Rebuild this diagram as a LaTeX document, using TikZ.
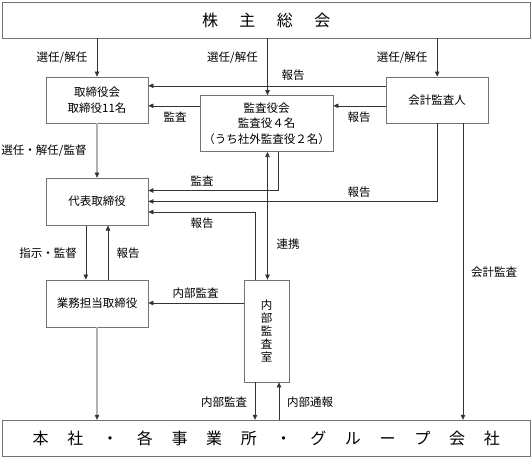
\documentclass[tikz,border=0pt]{standalone}
\usepackage{fontspec}
\setmainfont{Noto Sans CJK JP}
\usetikzlibrary{arrows.meta}
\begin{document}
\begin{tikzpicture}[x=1pt,y=-1pt,
  box/.style={draw=black!55,line width=0.8pt,fill=white,inner sep=0pt,align=center,
    font=\fontsize{11.5}{15.5}\selectfont},
  arr/.style={draw=black!80,line width=0.55pt,-{Triangle[length=5pt,width=4.5pt]}},
  darr/.style={draw=black!80,line width=0.55pt,{Triangle[length=5pt,width=4.5pt]}-{Triangle[length=5pt,width=4.5pt]}},
  garr/.style={draw=black!30,line width=1.3pt,-{Triangle[length=5pt,width=4.5pt,color=black!80,fill=black!80,line width=0.5pt]}},
  lbl/.style={font=\fontsize{11.5}{13}\selectfont,inner sep=0pt}]
\useasboundingbox (0,0) rectangle (532,458);
% boxes
\node[box,minimum width=527.5pt,minimum height=36pt,font=\fontsize{16}{18}\selectfont] (top) at (266.25,20)
  {株\hspace{21.5pt}主\hspace{21.5pt}総\hspace{21.5pt}会};
\node[box,minimum width=102pt,minimum height=46pt] (tori) at (97,100) {取締役会\\取締役11名};
\node[box,minimum width=133pt,minimum height=56pt] (kansa) at (266.5,123.6) {監査役会\\監査役４名\\（うち社外監査役２名）};
\node[box,minimum width=102pt,minimum height=46pt] (kaikei) at (437.2,100) {会計監査人};
\node[box,minimum width=102pt,minimum height=47pt] (daihyo) at (97,201.6) {代表取締役};
\node[box,minimum width=102pt,minimum height=47pt] (gyomu) at (97,303.4) {業務担当取締役};
\node[box,minimum width=45pt,minimum height=102pt,font=\fontsize{11.5}{12.8}\selectfont] (naibu) at (266.5,331) {内\\部\\監\\査\\室};
\node[box,minimum width=527.5pt,minimum height=36pt,font=\fontsize{16}{18}\selectfont] (bottom) at (266.25,438.2)
  {本\hspace{18.7pt}社\hspace{18.7pt}・\hspace{18.7pt}各\hspace{18.7pt}事\hspace{18.7pt}業\hspace{18.7pt}所\hspace{18.7pt}・\hspace{18.7pt}グ\hspace{18.7pt}ル\hspace{18.7pt}ー\hspace{18.7pt}プ\hspace{18.7pt}会\hspace{18.7pt}社};
% helper coordinates
\coordinate (h1) at (0,85.8);
\coordinate (h2) at (0,105.8);
\coordinate (h3) at (0,190.5);
\coordinate (h4) at (0,201.4);
\coordinate (h5) at (0,212);
\coordinate (h6) at (0,303);
\coordinate (v1) at (278.6,0);
\coordinate (v2) at (255,0);
\coordinate (v3) at (85.8,0);
\coordinate (v4) at (108,0);
\coordinate (v5) at (279,0);
\coordinate (v6) at (463,0);
\coordinate (v7) at (267.5,0);
% connectors
\draw[arr] (top.south -| tori.north) -- (tori.north);
\draw[arr] (top.south -| v7) -- (kansa.north -| v7);
\draw[arr] (top.south -| kaikei.north) -- (kaikei.north);
\draw[arr] (kaikei.west |- h1) -- (tori.east |- h1);
\draw[arr] (kansa.west |- h2) -- (tori.east |- h2);
\draw[arr] (kaikei.west |- h2) -- (kansa.east |- h2);
\draw[garr] (tori.south) -- (daihyo.north);
\draw[arr] (kansa.south -| v1) -- (v1 |- h3) -- (daihyo.east |- h3);
\draw[arr] (kaikei.south) -- (kaikei.south |- h4) -- (daihyo.east |- h4);
\draw[arr] (naibu.north -| v2) -- (v2 |- h5) -- (daihyo.east |- h5);
\draw[darr] (kansa.south -| v7) -- (naibu.north -| v7);
\draw[arr] (daihyo.south -| v3) -- (gyomu.north -| v3);
\draw[arr] (gyomu.north -| v4) -- (daihyo.south -| v4);
\draw[arr] (naibu.west |- h6) -- (gyomu.east |- h6);
\draw[garr] (gyomu.south) -- (bottom.north -| gyomu.south);
\draw[arr] (naibu.south -| v2) -- (bottom.north -| v2);
\draw[arr] (bottom.north -| v5) -- (naibu.south -| v5);
\draw[arr] (kaikei.south -| v6) -- (bottom.north -| v6);
% labels
\node[lbl] (l1) at (62,58) {選任/解任};
\node[lbl] (l2) at (232.5,58) {選任/解任};
\node[lbl] (l3) at (402,58) {選任/解任};
\node[lbl] (l4) at (293,75) {報告};
\node[lbl] (l5) at (175,117) {監査};
\node[lbl] (l6) at (359,117) {報告};
\node[lbl] (l7) at (44,151) {選任・解任/監督};
\node[lbl] (l8) at (202,181) {監査};
\node[lbl] (l9) at (359,192) {報告};
\node[lbl] (l10) at (202,223) {報告};
\node[lbl] (l11) at (288,244) {連携};
\node[lbl] (l12) at (48,253) {指示・監督};
\node[lbl] (l13) at (128,253) {報告};
\node[lbl] (l14) at (195.6,293.6) {内部監査};
\node[lbl] (l15) at (494,272) {会計監査};
\node[lbl] (l16) at (224,402) {内部監査};
\node[lbl] (l17) at (310,402) {内部通報};
\end{tikzpicture}
\end{document}
